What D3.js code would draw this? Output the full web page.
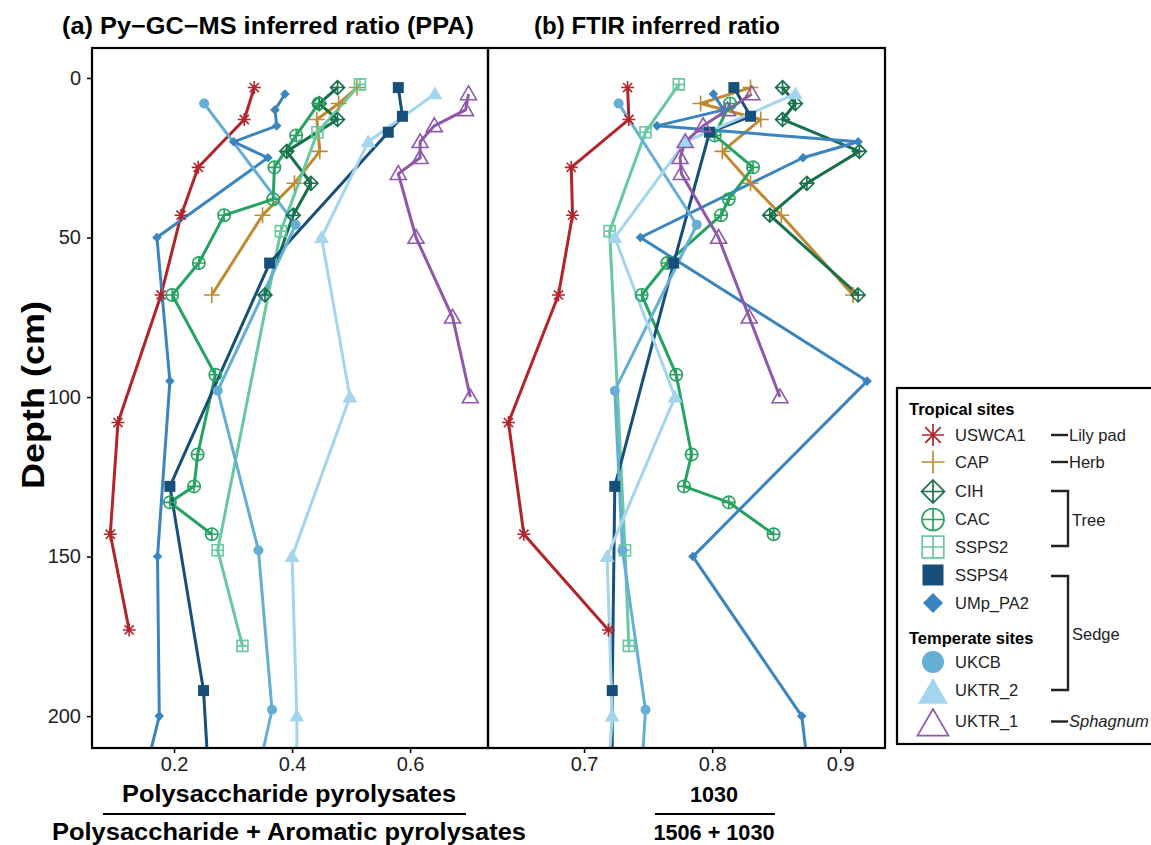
<!DOCTYPE html>
<html>
<head>
<meta charset="utf-8">
<script src="https://cdn.jsdelivr.net/npm/d3@7"></script>
<style>
  body { margin: 0; background: #fff; }
  svg { font-family: "Liberation Sans", Arial, sans-serif; }
</style>
</head>
<body>
<div id="chart"></div>
<script>
// ---- data ----
const siteNames = ["USWCA1", "CAP", "CIH", "CAC", "SSPS2", "SSPS4", "UMp_PA2", "UKCB", "UKTR_2", "UKTR_1"];
const siteColors = ["#b2242a", "#bf8a30", "#17704a", "#25a360", "#68c9a0", "#16507a", "#3a84c0", "#65aed6", "#a3d6ee", "#8e58ab"];
const siteShapes = ["asterisk", "plus", "diamondPlus", "circlePlus", "squarePlus", "square", "diamond", "circle", "triangle", "triangleOpen"];

const uswca1Depth = [3, 13, 28, 43, 68, 108, 143, 173];
const uswca1Ppa   = [0.336, 0.319, 0.241, 0.212, 0.178, 0.105, 0.092, 0.124];
const uswca1Ftir  = [0.734, 0.735, 0.690, 0.691, 0.680, 0.641, 0.653, 0.719];

const capDepth = [3, 8, 13, 23, 33, 43, 68];
const capPpa   = [0.510, 0.479, 0.442, 0.447, 0.404, 0.350, 0.264];
const capFtir  = [0.830, 0.791, 0.838, 0.808, 0.830, 0.854, 0.910];

const cihDepth = [3, 8, 13, 23, 33, 43, 68];
const cihPpa   = [0.477, 0.446, 0.477, 0.391, 0.432, 0.402, 0.354];
const cihFtir  = [0.855, 0.865, 0.855, 0.915, 0.874, 0.845, 0.914];

const cacDepth = [8, 18, 28, 38, 43, 58, 68, 93, 118, 128, 133, 143];
const cacPpa   = [0.445, 0.407, 0.370, 0.368, 0.285, 0.242, 0.197, 0.270, 0.240, 0.234, 0.193, 0.264];
const cacFtir  = [0.814, 0.802, 0.832, 0.813, 0.807, 0.765, 0.745, 0.772, 0.784, 0.778, 0.813, 0.848];

const ssps2Depth = [2, 17, 48, 148, 178];
const ssps2Ppa   = [0.515, 0.443, 0.381, 0.274, 0.316];
const ssps2Ftir  = [0.774, 0.748, 0.720, 0.732, 0.735];

const ssps4Depth = [3, 12, 17, 58, 128, 192, 230];
const ssps4Ppa   = [0.580, 0.587, 0.563, 0.362, 0.193, 0.250, 0.262];
const ssps4Ftir  = [0.817, 0.830, 0.798, 0.770, 0.724, 0.722, 0.722];

const umpDepth = [5, 10, 15, 20, 25, 50, 95, 150, 200, 230];
const umpPpa   = [0.388, 0.371, 0.374, 0.301, 0.359, 0.171, 0.193, 0.172, 0.175, 0.135];
const umpFtir  = [0.801, 0.809, 0.757, 0.914, 0.871, 0.744, 0.921, 0.785, 0.870, 0.879];

const ukcbDepth = [8, 46, 98, 148, 198, 230];
const ukcbPpa   = [0.251, 0.406, 0.274, 0.343, 0.366, 0.328];
const ukcbFtir  = [0.727, 0.788, 0.724, 0.730, 0.748, 0.743];

const uktr2Depth = [5, 20, 50, 100, 150, 200, 230];
const uktr2Ppa   = [0.642, 0.529, 0.450, 0.498, 0.400, 0.408, 0.408];
const uktr2Ftir  = [0.865, 0.779, 0.724, 0.771, 0.718, 0.722, 0.717];

const uktr1Depth = [5, 10, 15, 20, 25, 30, 50, 75, 100];
const uktr1Ppa   = [0.699, 0.694, 0.641, 0.617, 0.617, 0.580, 0.610, 0.672, 0.702];
const uktr1Ftir  = [0.831, 0.812, 0.793, 0.779, 0.775, 0.776, 0.805, 0.829, 0.853];

const depthTicks = [0, 50, 100, 150, 200];
const ppaTicks = [0.2, 0.4, 0.6];
const ftirTicks = [0.7, 0.8, 0.9];

// group the arrays per site
const siteDepths = [uswca1Depth, capDepth, cihDepth, cacDepth, ssps2Depth, ssps4Depth, umpDepth, ukcbDepth, uktr2Depth, uktr1Depth];
const sitePpa = [uswca1Ppa, capPpa, cihPpa, cacPpa, ssps2Ppa, ssps4Ppa, umpPpa, ukcbPpa, uktr2Ppa, uktr1Ppa];
const siteFtir = [uswca1Ftir, capFtir, cihFtir, cacFtir, ssps2Ftir, ssps4Ftir, umpFtir, ukcbFtir, uktr2Ftir, uktr1Ftir];

// ---- setup ----
const width = 1151, height = 845;
const svg = d3.select("#chart").append("svg")
    .attr("width", width)
    .attr("height", height);

const y = d3.scaleLinear().domain([-9.4, 210]).range([48, 748]);

const panels = [
    {id: "a", x: d3.scaleLinear().domain([0.061, 0.732]).range([92, 488]), values: sitePpa, ticks: ppaTicks},
    {id: "b", x: d3.scaleLinear().domain([0.625, 0.935]).range([488, 885]), values: siteFtir, ticks: ftirTicks}
];

// marker shapes, roughly the ggplot ones
function markerPath(shape, r) {
    const p = d3.path();
    if (shape === "asterisk") {
        const a = r * 0.707;
        p.moveTo(-r, 0); p.lineTo(r, 0);
        p.moveTo(0, -r); p.lineTo(0, r);
        p.moveTo(-a, -a); p.lineTo(a, a);
        p.moveTo(-a, a); p.lineTo(a, -a);
    } else if (shape === "plus") {
        p.moveTo(-r, 0); p.lineTo(r, 0);
        p.moveTo(0, -r); p.lineTo(0, r);
    } else if (shape === "diamondPlus") {
        p.moveTo(0, -r); p.lineTo(r, 0); p.lineTo(0, r); p.lineTo(-r, 0); p.closePath();
        p.moveTo(-r, 0); p.lineTo(r, 0);
        p.moveTo(0, -r); p.lineTo(0, r);
    } else if (shape === "circlePlus") {
        p.moveTo(r, 0); p.arc(0, 0, r, 0, 2 * Math.PI);
        p.moveTo(-r, 0); p.lineTo(r, 0);
        p.moveTo(0, -r); p.lineTo(0, r);
    } else if (shape === "squarePlus") {
        p.rect(-r, -r, 2 * r, 2 * r);
        p.moveTo(-r, 0); p.lineTo(r, 0);
        p.moveTo(0, -r); p.lineTo(0, r);
    } else if (shape === "square") {
        p.rect(-r, -r, 2 * r, 2 * r);
    } else if (shape === "diamond") {
        p.moveTo(0, -r); p.lineTo(r, 0); p.lineTo(0, r); p.lineTo(-r, 0); p.closePath();
    } else if (shape === "circle") {
        p.moveTo(r, 0); p.arc(0, 0, r, 0, 2 * Math.PI);
    } else if (shape === "triangle" || shape === "triangleOpen") {
        p.moveTo(0, -r); p.lineTo(r * 1.0, r * 0.72); p.lineTo(-r * 1.0, r * 0.72); p.closePath();
    }
    return p.toString();
}
const filledShapes = ["square", "diamond", "circle", "triangle"];
const plotSize = {asterisk: 6.5, plus: 8, diamondPlus: 7, circlePlus: 6.2, squarePlus: 5.5, square: 5.5, diamond: 4.8, circle: 5, triangle: 7.5, triangleOpen: 8};

function drawMarker(g, shape, color, r, sw) {
    const filled = filledShapes.includes(shape);
    return g.append("path")
        .attr("d", markerPath(shape, r))
        .attr("fill", filled ? color : "none")
        .attr("stroke", filled ? "none" : color)
        .attr("stroke-width", sw);
}

svg.append("defs").append("clipPath").attr("id", "clipAll")
    .append("rect").attr("x", 92).attr("y", 48).attr("width", 793).attr("height", 700);

// ---- panels ----
panels.forEach(panel => {
    const x = panel.x;
    const g = svg.append("g").attr("clip-path", "url(#clipAll)");

    const line = d3.line()
        .x(d => x(d.v))
        .y(d => y(d.depth));

    siteNames.forEach((name, i) => {
        const pts = siteDepths[i].map((dp, j) => ({depth: dp, v: panel.values[i][j]}));
        g.append("path")
            .datum(pts)
            .attr("class", "line-" + name)
            .attr("fill", "none")
            .attr("stroke", siteColors[i])
            .attr("stroke-width", 3)
            .attr("stroke-linejoin", "round")
            .attr("d", line);
    });

    siteNames.forEach((name, i) => {
        const pts = siteDepths[i].map((dp, j) => ({depth: dp, v: panel.values[i][j]}));
        pts.forEach(d => {
            drawMarker(g, siteShapes[i], siteColors[i], plotSize[siteShapes[i]], 1.6)
                .attr("transform", `translate(${x(d.v)},${y(d.depth)})`);
        });
    });

    // x axis
    const xAxis = svg.append("g")
        .attr("transform", "translate(0,748)")
        .call(d3.axisBottom(x).tickValues(panel.ticks).tickFormat(d3.format(".1f")).tickSizeOuter(0).tickSize(5).tickPadding(4));
    xAxis.select(".domain").remove();
    xAxis.selectAll("line").attr("stroke", "#000").attr("stroke-width", 1.5);
    xAxis.selectAll("text").attr("font-size", 20).attr("fill", "#222").attr("font-family", "Liberation Sans, Arial, sans-serif");
});

// y axis (left panel only)
const yAxis = svg.append("g")
    .attr("transform", "translate(92,0)")
    .call(d3.axisLeft(y).tickValues(depthTicks).tickSizeOuter(0).tickSize(5).tickPadding(6));
yAxis.select(".domain").remove();
yAxis.selectAll("line").attr("stroke", "#000").attr("stroke-width", 1.5);
yAxis.selectAll("text").attr("font-size", 20).attr("fill", "#222").attr("font-family", "Liberation Sans, Arial, sans-serif");

// panel borders
svg.append("rect").attr("x", 92).attr("y", 48).attr("width", 396).attr("height", 700)
    .attr("fill", "none").attr("stroke", "#000").attr("stroke-width", 2.2);
svg.append("rect").attr("x", 488).attr("y", 48).attr("width", 397).attr("height", 700)
    .attr("fill", "none").attr("stroke", "#000").attr("stroke-width", 2.2);

// titles
svg.append("text").attr("x", 62).attr("y", 34)
    .attr("font-size", 23).attr("font-weight", "bold")
    .attr("textLength", 412).attr("lengthAdjust", "spacingAndGlyphs")
    .text("(a) Py\u2212GC\u2212MS inferred ratio (PPA)");
svg.append("text").attr("x", 534).attr("y", 34)
    .attr("font-size", 23).attr("font-weight", "bold")
    .attr("textLength", 246).attr("lengthAdjust", "spacingAndGlyphs")
    .text("(b) FTIR inferred ratio");

svg.append("text")
    .attr("transform", "translate(44,395) rotate(-90)")
    .attr("text-anchor", "middle")
    .attr("font-size", 31).attr("font-weight", "bold")
    .attr("textLength", 188).attr("lengthAdjust", "spacingAndGlyphs")
    .text("Depth (cm)");

// axis titles as fractions
function fraction(cx, top, bottom, topLen, bottomLen, fs, lineX1, lineX2) {
    svg.append("text").attr("x", cx).attr("y", 802).attr("text-anchor", "middle")
        .attr("font-size", fs).attr("font-weight", "bold")
        .attr("textLength", topLen).attr("lengthAdjust", "spacingAndGlyphs").text(top);
    svg.append("line").attr("x1", lineX1).attr("x2", lineX2).attr("y1", 814).attr("y2", 814)
        .attr("stroke", "#000").attr("stroke-width", 2);
    svg.append("text").attr("x", cx).attr("y", 840).attr("text-anchor", "middle")
        .attr("font-size", fs).attr("font-weight", "bold")
        .attr("textLength", bottomLen).attr("lengthAdjust", "spacingAndGlyphs").text(bottom);
}
fraction(289, "Polysaccharide pyrolysates", "Polysaccharide + Aromatic pyrolysates", 334, 474, 23, 103, 466);
fraction(714, "1030", "1506 + 1030", 48, 121, 22, 655, 775);

// ---- legend ----
const legend = svg.append("g");
legend.append("rect").attr("x", 897).attr("y", 388).attr("width", 270).attr("height", 356)
    .attr("fill", "#fff").attr("stroke", "#000").attr("stroke-width", 2.2);

const legendRows = [435, 462, 491.5, 519.5, 547, 575, 603, 662, 690, 721.5];
const legendSize = {asterisk: 11, plus: 11.5, diamondPlus: 11.5, circlePlus: 11, squarePlus: 10.8, square: 10.5, diamond: 10, circle: 11, triangle: 15, triangleOpen: 15.5};

legend.append("text").attr("x", 909).attr("y", 415).attr("font-size", 16.5).attr("font-weight", "bold").text("Tropical sites");
legend.append("text").attr("x", 909).attr("y", 644).attr("font-size", 16.5).attr("font-weight", "bold").text("Temperate sites");

siteNames.forEach((name, i) => {
    const shape = siteShapes[i];
    const dy = (shape === "triangle" || shape === "triangleOpen") ? 3 : 0;
    drawMarker(legend, shape, siteColors[i], legendSize[shape], 1.7)
        .attr("transform", `translate(933,${legendRows[i] + dy})`);
    legend.append("text").attr("x", 955).attr("y", legendRows[i]).attr("dy", "0.36em")
        .attr("font-size", 16.5).attr("fill", "#222").text(name);
});

// vegetation groups
const ann = legend.append("g").attr("stroke", "#222").attr("stroke-width", 2.4).attr("fill", "none");
ann.append("line").attr("x1", 1051).attr("x2", 1068).attr("y1", 435).attr("y2", 435);
ann.append("line").attr("x1", 1051).attr("x2", 1068).attr("y1", 462).attr("y2", 462);
ann.append("path").attr("d", "M1051,491H1068V546H1051");
ann.append("path").attr("d", "M1051,576H1068V690H1051");
ann.append("line").attr("x1", 1051).attr("x2", 1068).attr("y1", 721.5).attr("y2", 721.5);

const annText = [["Lily pad", 435, "normal"], ["Herb", 462, "normal"], ["Tree", 520, "normal"], ["Sedge", 634, "normal"], ["Sphagnum", 721.5, "italic"]];
annText.forEach(a => {
    legend.append("text").attr("x", a[0] === "Tree" || a[0] === "Sedge" ? 1072 : 1069).attr("y", a[1]).attr("dy", "0.36em")
        .attr("font-size", 16.5).attr("font-style", a[2]).attr("fill", "#222").text(a[0]);
});
</script>
</body>
</html>
